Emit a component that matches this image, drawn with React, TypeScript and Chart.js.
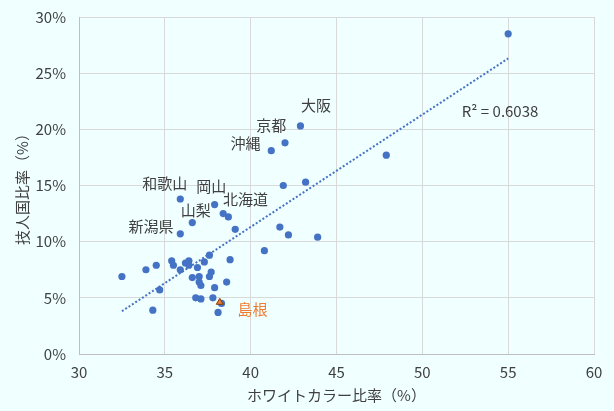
import React, { useRef, useEffect } from "react";
import { Chart, ChartConfiguration, Plugin } from "chart.js/auto";

// ホワイトカラー比率 (%) and 技人国比率 (%) by prefecture
const whiteCollar: number[] = [
  55.0, 42.9, 42.0, 41.2, 47.9, 43.2, 41.9, 35.9, 37.9, 38.4,
  38.7, 36.6, 39.1, 41.7, 35.9, 42.2, 43.9, 40.8, 37.6, 38.8,
  35.4, 35.5, 36.2, 36.4, 36.4, 37.3, 36.9, 34.5, 33.9, 35.9,
  32.5, 36.6, 37.0, 37.7, 37.6, 37.0, 37.1, 37.9, 38.6, 34.7,
  36.8, 37.1, 37.8, 38.3, 34.3, 38.1,
];
const gijinkoku: number[] = [
  28.5, 20.3, 18.8, 18.1, 17.7, 15.3, 15.0, 13.8, 13.3, 12.5,
  12.2, 11.7, 11.1, 11.3, 10.7, 10.6, 10.4, 9.2, 8.8, 8.4,
  8.3, 7.9, 8.1, 8.3, 7.9, 8.2, 7.7, 7.9, 7.5, 7.5,
  6.9, 6.8, 6.9, 7.3, 6.9, 6.4, 6.1, 5.9, 6.4, 5.7,
  5.0, 4.9, 5.0, 4.5, 3.9, 3.7,
];

// highlighted prefecture (島根)
const highlightX: number[] = [38.2];
const highlightY: number[] = [4.6];

const xTicks: number[] = [30, 35, 40, 45, 50, 55, 60];
const yTicks: number[] = [0, 5, 10, 15, 20, 25, 30];

const labelNames: string[] = ["大阪", "京都", "沖縄", "和歌山", "岡山", "北海道", "山梨", "新潟県", "島根"];
const labelX: number[] = [43.8, 41.2, 39.7, 35.0, 37.7, 39.7, 36.8, 34.2, 40.1];
const labelY: number[] = [22.1, 20.4, 18.8, 15.2, 14.9, 13.8, 12.8, 11.4, 4.0];

const rSquaredText = "R² = 0.6038";

const FONT = "'Noto Sans CJK JP', 'Noto Sans', sans-serif";
const TEXT = "#404040";
const BG = "#F0FFFF";

// least squares line through the data
function trend(xs: number[], ys: number[]) {
  const n = xs.length;
  const mx = xs.reduce((a, b) => a + b, 0) / n;
  const my = ys.reduce((a, b) => a + b, 0) / n;
  let sxy = 0, sxx = 0;
  for (let i = 0; i < n; i++) {
    sxy += (xs[i] - mx) * (ys[i] - my);
    sxx += (xs[i] - mx) * (xs[i] - mx);
  }
  const slope = sxy / sxx;
  const icpt = my - slope * mx;
  const x0 = Math.min(...xs);
  const x1 = Math.max(...xs);
  return [
    { x: x0, y: slope * x0 + icpt },
    { x: x1, y: slope * x1 + icpt },
  ];
}

const bgPlugin: Plugin = {
  id: "bg",
  beforeDraw(chart) {
    const { ctx, width, height } = chart;
    ctx.save();
    ctx.fillStyle = BG;
    ctx.fillRect(0, 0, width, height);
    ctx.restore();
  },
};

const labelPlugin: Plugin = {
  id: "labels",
  afterDatasetsDraw(chart) {
    const { ctx } = chart;
    const xs = chart.scales.x;
    const ys = chart.scales.y;
    ctx.save();
    ctx.font = `15px ${FONT}`;
    ctx.textAlign = "center";
    ctx.textBaseline = "middle";
    labelNames.forEach((name, i) => {
      ctx.fillStyle = name === "島根" ? "#ED7D31" : TEXT;
      ctx.fillText(name, xs.getPixelForValue(labelX[i]), ys.getPixelForValue(labelY[i]));
    });
    ctx.fillStyle = TEXT;
    ctx.textAlign = "left";
    ctx.fillText(rSquaredText, xs.getPixelForValue(52.3), ys.getPixelForValue(21.6));
    ctx.restore();
  },
};

const ScatterChart: React.FC = () => {
  const chartRef = useRef<HTMLCanvasElement | null>(null);
  const chartInstanceRef = useRef<Chart | null>(null);

  useEffect(() => {
    document.body.style.margin = "0";
    if (!chartRef.current) return;
    const ctx = chartRef.current.getContext("2d");
    if (!ctx) return;
    if (chartInstanceRef.current) chartInstanceRef.current.destroy();

    const points = whiteCollar.map((x, i) => ({ x, y: gijinkoku[i] }));
    const hl = highlightX.map((x, i) => ({ x, y: highlightY[i] }));

    const config: ChartConfiguration = {
      type: "scatter",
      data: {
        datasets: [
          {
            label: "trend",
            data: trend(whiteCollar, gijinkoku),
            showLine: true,
            borderColor: "#4472C4",
            borderWidth: 2,
            borderDash: [2, 2],
            pointRadius: 0,
            order: 3,
          } as any,
          {
            label: "prefectures",
            data: points,
            backgroundColor: "#4472C4",
            borderColor: "#4472C4",
            borderWidth: 0,
            pointRadius: 3.6,
            order: 2,
          },
          {
            label: "島根",
            data: hl,
            pointStyle: "triangle",
            backgroundColor: "#ED7D31",
            borderColor: "#843C0C",
            borderWidth: 1,
            pointRadius: 4,
            order: 1,
          },
        ],
      },
      options: {
        animation: false,
        responsive: false,
        devicePixelRatio: 1,
        layout: { padding: { top: 17, right: 20, left: 0, bottom: 0 } },
        plugins: {
          legend: { display: false },
          tooltip: { enabled: false },
        },
        scales: {
          x: {
            type: "linear",
            min: 30,
            max: 60,
            afterBuildTicks: (s: any) => {
              s.ticks = xTicks.map((v) => ({ value: v }));
            },
            afterFit: (s: any) => {
              s.height = 57;
            },
            ticks: {
              color: TEXT,
              font: { family: FONT, size: 15 },
              padding: 9,
            },
            grid: { color: "#D9D9D9", drawTicks: false, tickLength: 0 },
            border: { color: "#BFBFBF" },
            title: {
              display: true,
              text: "ホワイトカラー比率（%）",
              color: TEXT,
              font: { family: FONT, size: 15 },
              padding: { top: 0, bottom: 7 },
            },
          },
          y: {
            type: "linear",
            min: 0,
            max: 30,
            afterBuildTicks: (s: any) => {
              s.ticks = yTicks.map((v) => ({ value: v }));
            },
            afterFit: (s: any) => {
              s.width = 79;
            },
            ticks: {
              color: TEXT,
              font: { family: FONT, size: 15 },
              padding: 4,
              callback: (v: any) => `${v}%`,
            },
            grid: {
              color: "#D9D9D9",
              drawTicks: true,
              tickLength: 9,
              tickColor: "rgba(0,0,0,0)",
            },
            border: { color: "#BFBFBF" },
            title: {
              display: true,
              text: "技人国比率（%）",
              color: TEXT,
              font: { family: FONT, size: 15 },
              padding: { top: 13, bottom: 0 },
            },
          },
        },
      },
      plugins: [bgPlugin, labelPlugin],
    };
    chartInstanceRef.current = new Chart(ctx, config);
    return () => {
      if (chartInstanceRef.current) {
        chartInstanceRef.current.destroy();
        chartInstanceRef.current = null;
      }
    };
  }, []);

  return (
    <div style={{ width: 614, height: 411, background: BG }}>
      <canvas ref={chartRef} width={614} height={411}></canvas>
    </div>
  );
};

export default function App() {
  return <ScatterChart />;
}
